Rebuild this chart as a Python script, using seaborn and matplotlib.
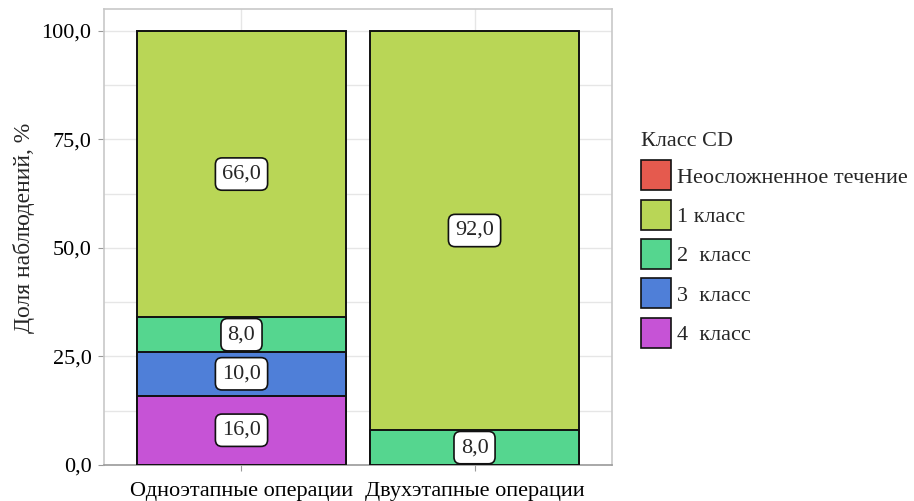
import pandas as pd
import matplotlib.pyplot as plt
import seaborn as sns
from matplotlib.patches import Patch
from matplotlib.ticker import MultipleLocator, FuncFormatter

groups = ["Одноэтапные операции", "Двухэтапные операции"]
classes = ["Неосложненное течение", "1 класс", "2  класс", "3  класс", "4  класс"]
colors = ["#e55a4e", "#b9d656", "#55d68f", "#4f7fd8", "#c653d6"]
# shares, % (rows follow classes, columns follow groups)
shares = {
    "Неосложненное течение": [0.0, 0.0],
    "1 класс": [66.0, 92.0],
    "2  класс": [8.0, 8.0],
    "3  класс": [10.0, 0.0],
    "4  класс": [16.0, 0.0],
}
stack_order = ["4  класс", "3  класс", "2  класс", "1 класс"]  # bottom -> top

rows = []
for cls in classes:
    for g, v in zip(groups, shares[cls]):
        rows.append([g, cls, v])
df = pd.DataFrame(rows, columns=["group", "cls", "share"])

# cumulative tops of each stacked segment
df["bottom"] = 0.0
for g in groups:
    acc = 0.0
    for cls in stack_order:
        m = (df["group"] == g) & (df["cls"] == cls)
        df.loc[m, "bottom"] = acc
        acc += df.loc[m, "share"].iloc[0]
df["top"] = df["bottom"] + df["share"]

sns.set_style("white")
plt.rcParams["font.family"] = ["Liberation Serif", "DejaVu Serif"]

fig = plt.figure(figsize=(9.14, 5.01), dpi=100)
ax = fig.add_axes([0.1138, 0.0719, 0.5558, 0.910])

# draw from the top layer down so lower layers cover the upper ones
for cls in reversed(stack_order):
    sub = df[(df["cls"] == cls) & (df["share"] > 0)]
    sns.barplot(data=sub, x="group", y="top", order=groups, ax=ax,
                color=colors[classes.index(cls)], saturation=1, width=0.9,
                edgecolor="#111111", linewidth=1.4, zorder=3)

for _, r in df[df["share"] > 0].iterrows():
    xi = groups.index(r["group"])
    ax.text(xi, r["bottom"] + r["share"] / 2, f"{r['share']:.1f}".replace(".", ","),
            ha="center", va="center", fontsize=16, zorder=5,
            bbox=dict(boxstyle="round,pad=0.3,rounding_size=0.3",
                      fc="white", ec="#111111", lw=1.2))

ax.set_xlim(-0.59, 1.59)
ax.set_ylim(0, 105)
ax.yaxis.set_major_locator(MultipleLocator(25))
ax.yaxis.set_minor_locator(MultipleLocator(12.5))
ax.yaxis.set_major_formatter(FuncFormatter(lambda v, p: f"{v:.1f}".replace(".", ",")))
ax.grid(which="both", axis="y", color="#e6e6e6", lw=1, zorder=0)
ax.grid(which="major", axis="x", color="#e6e6e6", lw=1, zorder=0)
ax.set_axisbelow(True)
for s in ax.spines.values():
    s.set_color("#c8c8c8")
    s.set_linewidth(1.2)
ax.spines["bottom"].set_color("#9a9a9a")

ax.tick_params(axis="y", which="major", labelsize=16, length=4, color="#9a9a9a",
               labelcolor="black", left=True, pad=5)
ax.tick_params(axis="x", which="major", labelsize=16, length=4, color="#9a9a9a",
               labelcolor="black", bottom=True, pad=8)
ax.tick_params(axis="y", which="minor", length=0)
ax.set_xlabel("")
ax.set_ylabel("Доля наблюдений, %", fontsize=17)
ax.yaxis.set_label_coords(-0.136, 0.52)

handles = [Patch(facecolor=c, edgecolor="#111111", linewidth=1.2) for c in colors]
leg = fig.legend(handles, classes, title="Класс CD", loc="upper left",
                 bbox_to_anchor=(641 / 914, 1 - 132 / 501), frameon=False,
                 fontsize=16, title_fontsize=16, handlelength=1.35, handleheight=1.7,
                 handletextpad=0.25, labelspacing=0.42, borderpad=0, borderaxespad=0,
                 alignment="left")

fig.savefig("out.png", dpi=100, facecolor="white")
